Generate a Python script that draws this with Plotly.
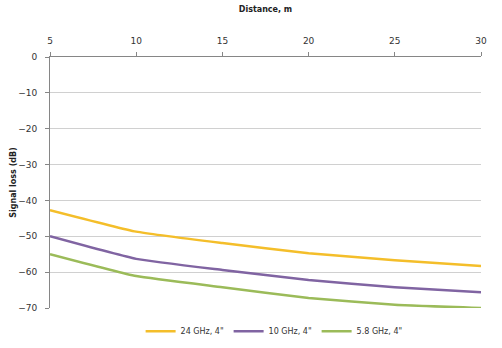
import plotly.graph_objects as go

distance = [5, 10, 15, 20, 25, 30]
s24 = [-42.7, -48.7, -51.9, -54.7, -56.7, -58.3]
s10 = [-50.0, -56.3, -59.4, -62.2, -64.2, -65.6]
s58 = [-55.0, -61.1, -64.2, -67.2, -69.1, -70.0]
names = ['24 GHz, 4"', '10 GHz, 4"', '5.8 GHz, 4"']
colors = ["#F4BE2A", "#8064A2", "#9BBB59"]
ytick_vals = [0, -10, -20, -30, -40, -50, -60, -70]

fig = go.Figure()
for name, ys, c in zip(names, [s24, s10, s58], colors):
    fig.add_trace(go.Scatter(x=distance, y=ys, mode="lines", name=name,
                             line=dict(color=c, width=2.5, shape="spline", smoothing=0.4)))

tick_font = dict(family="DejaVu Sans", size=9, color="#333333")
title_font = dict(family="DejaVu Sans", size=8, color="#222222")
fig.update_layout(
    width=502, height=348,
    margin=dict(l=50, r=21, t=57, b=40, autoexpand=False),
    paper_bgcolor="white", plot_bgcolor="white",
    font=tick_font,
    showlegend=True,
    legend=dict(orientation="h", x=0.52, xanchor="center", y=-0.035, yanchor="top",
                font=dict(family="DejaVu Sans", size=8, color="#333333"),
                itemwidth=30, tracegroupgap=0),
    xaxis=dict(side="top", range=[5, 30], tickvals=distance, ticks="outside", ticklen=4,
               tickcolor="#868686", showline=True, linecolor="#868686", linewidth=1,
               showgrid=False, zeroline=False, automargin=False, ticklabelstandoff=4,
               title=dict(text="<b>Distance, m</b>", font=title_font, standoff=22),
               tickfont=tick_font),
    yaxis=dict(range=[-70, 0], tickvals=ytick_vals, ticks="outside", ticklen=4,
               tickcolor="#868686", showline=True, linecolor="#868686", linewidth=1,
               showgrid=True, gridcolor="#D0D0D0", gridwidth=1, zeroline=False,
               automargin=False, ticklabelstandoff=6,
               title=dict(text="<b>Signal loss (dB)</b>", font=title_font, standoff=0),
               tickfont=tick_font),
)
fig.write_html("out.html")
